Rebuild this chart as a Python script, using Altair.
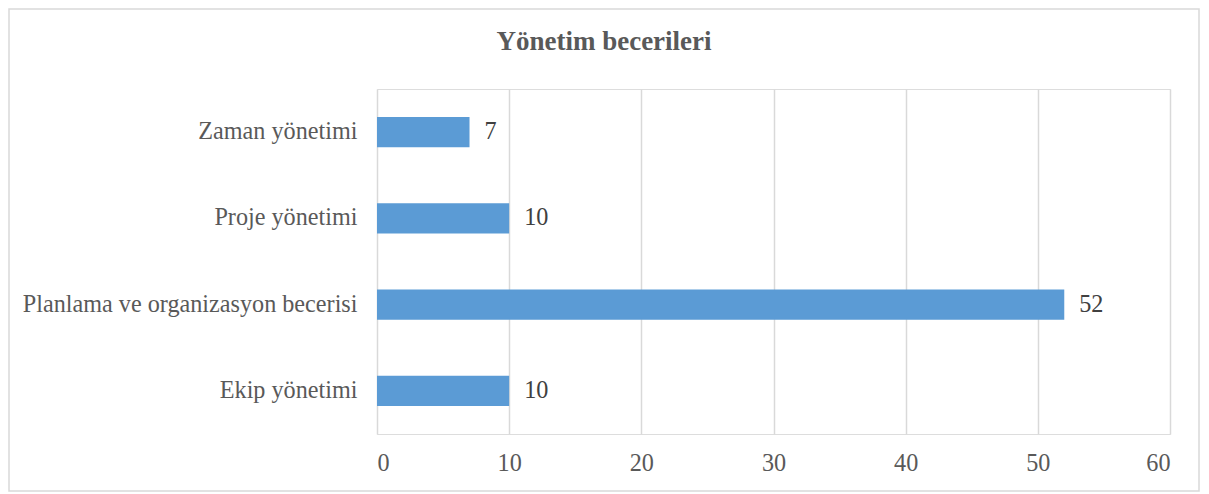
import altair as alt
import pandas as pd

categories = ["Zaman yönetimi", "Proje yönetimi", "Planlama ve organizasyon becerisi", "Ekip yönetimi"]
values = [7, 10, 52, 10]
x_ticks = [0, 10, 20, 30, 40, 50, 60]
title_text = "Yönetim becerileri"

df = pd.DataFrame({"kategori": categories, "deger": values})

FONT = "Liberation Serif"
FS = 24.2
W, H = 793, 345
PL, PT, PR, PB = 369, 81, 30, 58

y_enc = alt.Y(
    "kategori:N",
    sort=categories,
    scale=alt.Scale(paddingInner=0.65, paddingOuter=0.325),
    axis=alt.Axis(
        title=None, ticks=False, domain=False, grid=False,
        labelFont=FONT, labelFontSize=FS, labelColor="#595959",
        labelPadding=20, labelLimit=400,
    ),
)
x_enc = alt.X(
    "deger:Q",
    scale=alt.Scale(domain=[0, 60], nice=False),
    axis=alt.Axis(
        title=None, values=x_ticks, ticks=False, domain=False,
        grid=True, gridColor="#d9d9d9", gridWidth=1.5,
        labelFont=FONT, labelFontSize=FS, labelColor="#595959",
        labelPadding=17,
    ),
)

base = alt.Chart(df).encode(x=x_enc, y=y_enc)
bars = base.mark_bar(color="#5B9BD5")
labels = base.mark_text(
    align="left", baseline="middle", dx=15, font=FONT, fontSize=FS, color="#404040"
).encode(text="deger:Q")

frame = alt.Chart(df.head(1)).mark_rect(
    fillOpacity=0, stroke="#d9d9d9", strokeWidth=1.5
).encode(
    x=alt.value(-PL + 1), x2=alt.value(W + PR - 1),
    y=alt.value(-PT + 1), y2=alt.value(H + PB - 1),
)

chart = alt.layer(frame, bars, labels).properties(
    width=W, height=H,
    autosize=alt.AutoSizeParams(type="none"),
    padding={"left": PL, "top": PT, "right": PR, "bottom": PB},
    title=alt.TitleParams(
        text=title_text, font=FONT, fontSize=27, fontWeight="bold",
        color="#595959", anchor="middle", frame="bounds", offset=-48,
    ),
).configure_view(stroke="transparent", strokeWidth=0, strokeOpacity=0).configure_axis(
    domain=False
).configure(background="white")

chart.save("out.html", embed_options={"renderer": "svg", "actions": False})
